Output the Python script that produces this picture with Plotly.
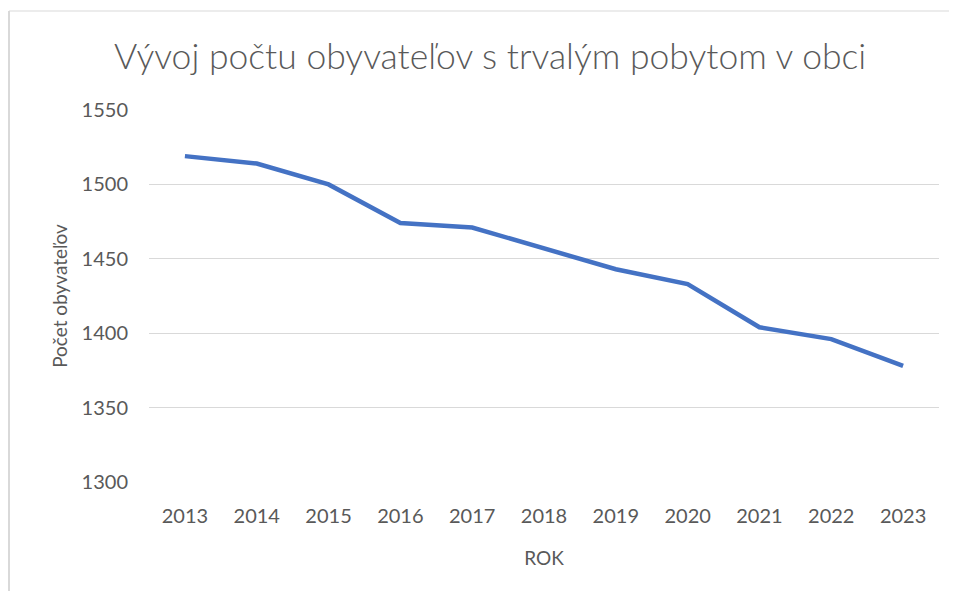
import plotly.graph_objects as go

years = ["2013", "2014", "2015", "2016", "2017", "2018", "2019", "2020", "2021", "2022", "2023"]
population = [1519, 1514, 1500, 1474, 1471, 1457, 1443, 1433, 1404, 1396, 1378]
y_ticks = [1300, 1350, 1400, 1450, 1500, 1550]

title_text = "Vývoj počtu obyvateľov s trvalým pobytom v obci"
x_title = "ROK"
y_title = "Počet obyvateľov"

FONT = "Lato, 'Open Sans', sans-serif"
GREY = "#595959"
BORDER = "#d9d9d9"

# page body has an 8px default margin, so the figure is sized to fill the rest
W, H = 949, 583
L, R, T, B = 141, 18, 102, 109
PW, PH = W - L - R, H - T - B

fig = go.Figure()
fig.add_trace(go.Scatter(
    x=years, y=population, mode="lines",
    line=dict(color="#4472C4", width=4.5),
    hoverinfo="x+y", showlegend=False,
))

x_left = (1 - L) / PW
y_top = 1 + (T - 3) / PH

fig.update_layout(
    width=W, height=H,
    margin=dict(l=L, r=R, t=T, b=B),
    paper_bgcolor="white", plot_bgcolor="white",
    font=dict(family=FONT, color=GREY),
    title=dict(text=title_text, x=0.508, xanchor="center", y=0.916, yanchor="middle",
               font=dict(size=35.5, color=GREY, family=FONT, weight=300)),
    xaxis=dict(
        type="category", range=[-0.5, len(years) - 0.5],
        showgrid=False, zeroline=False, showline=False,
        ticks="", tickfont=dict(size=20, color=GREY), ticklabelstandoff=20,
        title=dict(text=x_title, font=dict(size=19, color=GREY), standoff=25),
    ),
    yaxis=dict(
        range=[1300, 1550], tickvals=y_ticks, showgrid=True, gridcolor="#d9d9d9",
        gridwidth=1, zeroline=False, showline=False, ticks="",
        tickfont=dict(size=20, color=GREY), ticklabelstandoff=20,
        title=dict(text=y_title, font=dict(size=19, color=GREY), standoff=8),
    ),
    shapes=[
        dict(type="line", xref="paper", yref="paper", x0=x_left, x1=x_left,
             y0=-0.6, y1=y_top, line=dict(color=BORDER, width=2), layer="below"),
        dict(type="line", xref="paper", yref="paper", x0=x_left, x1=1.5,
             y0=y_top, y1=y_top, line=dict(color=BORDER, width=1), layer="below"),
    ],
)

fig.write_html("out.html")
